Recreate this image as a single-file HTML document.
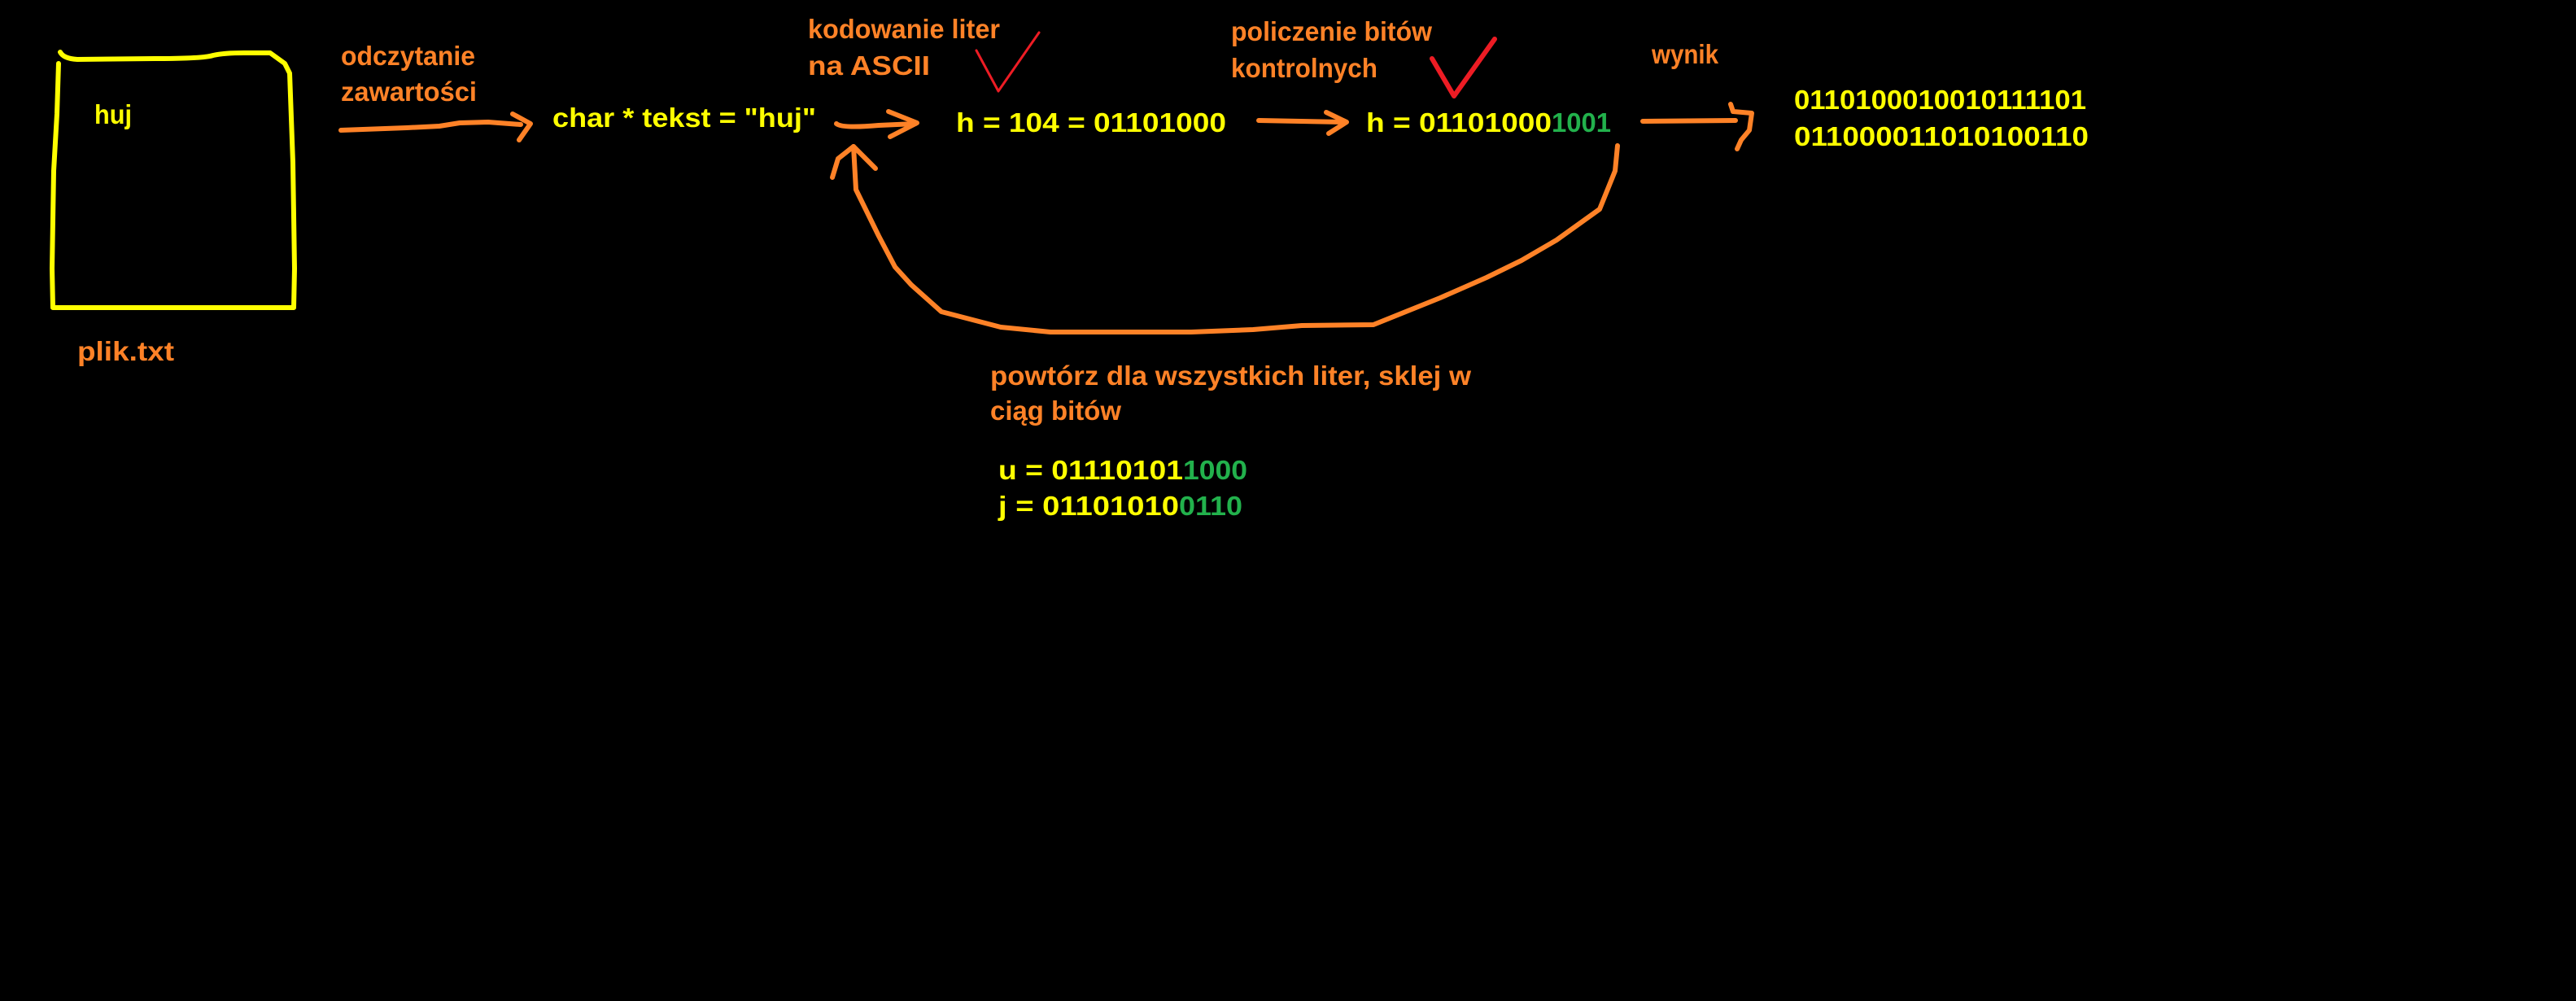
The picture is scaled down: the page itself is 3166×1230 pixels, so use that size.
<!DOCTYPE html>
<html><head><meta charset="utf-8"><style>
html,body{margin:0;padding:0;background:#000;width:3166px;height:1230px;overflow:hidden}
svg{display:block}
text{font-family:"Liberation Sans Narrow","Liberation Sans",sans-serif;font-weight:bold}
.y{fill:#ffff00}.o{fill:#ff8227}.g{fill:#22b14c}
</style></head><body>
<svg width="3166" height="1230" viewBox="0 0 3166 1230" xmlns="http://www.w3.org/2000/svg">
<rect width="3166" height="1230" fill="#000"/>
<g fill="none" stroke="#ffff00" stroke-width="6" stroke-linecap="round" stroke-linejoin="round">
<path d="M74,64 Q78,72 95,73 L190,72 Q250,72 262,68 Q275,65 300,65 L332,65 L350,78 L356,90 L360,200 L362,330 L361,378 L65,378 L64,330 L66,210 L70,140 L72,78"/>
</g>
<g fill="none" stroke="#ff8227" stroke-width="6" stroke-linecap="round" stroke-linejoin="round">
<path d="M419,160 L500,157 L540,155 L565,151 L600,150 L640,153"/>
<path d="M630,140 L652,152 L638,172"/>
<path d="M1028,152 Q1035,158 1080,154 L1125,152"/>
<path d="M1092,137 L1127,151 L1094,168"/>
<path d="M1547,148 L1650,150"/>
<path d="M1630,138 L1655,150 L1633,164"/>
<path d="M2019,149 L2133,148"/>
<path d="M2127,128 L2130,137 L2153,139 L2150,160 L2140,172 L2135,183"/>
<path d="M1988,179 L1985,210 L1966,257 L1913,295 L1870,320 L1827,341 L1770,366 L1688,399 L1600,400 L1540,405 L1464,408 L1291,408 L1230,402 L1157,383 L1120,350 L1100,328 L1080,290 L1052,233 L1049,180"/>
<path d="M1023,218 L1030,195 L1049,180 L1076,207"/>
</g>
<g fill="none" stroke="#ed1c24" stroke-linecap="round" stroke-linejoin="round">
<path d="M1200,62 L1227,112 L1277,40" stroke-width="3"/>
<path d="M1760,72 L1787,118 L1837,48" stroke-width="6"/>
</g>
<g font-size="33">
<text class="y" x="116" y="152" textLength="46" lengthAdjust="spacingAndGlyphs">huj</text>
<text class="o" x="95" y="443" textLength="119" lengthAdjust="spacingAndGlyphs">plik.txt</text>
<text class="o" x="419" y="80" textLength="165" lengthAdjust="spacingAndGlyphs">odczytanie</text>
<text class="o" x="419" y="124" textLength="167" lengthAdjust="spacingAndGlyphs">zawartości</text>
<text class="y" x="679" y="156" textLength="324" lengthAdjust="spacingAndGlyphs">char * tekst = "huj"</text>
<text class="o" x="993" y="47" textLength="236" lengthAdjust="spacingAndGlyphs">kodowanie liter</text>
<text class="o" x="993" y="92" textLength="150" lengthAdjust="spacingAndGlyphs">na ASCII</text>
<text class="y" x="1175" y="162" textLength="332" lengthAdjust="spacingAndGlyphs">h = 104 = 01101000</text>
<text class="o" x="1513" y="50" textLength="247" lengthAdjust="spacingAndGlyphs">policzenie bitów</text>
<text class="o" x="1513" y="95" textLength="180" lengthAdjust="spacingAndGlyphs">kontrolnych</text>
<text class="y" x="1679" y="162" textLength="228" lengthAdjust="spacingAndGlyphs">h = 01101000</text>
<text class="g" x="1907" y="162" textLength="73" lengthAdjust="spacingAndGlyphs">1001</text>
<text class="o" x="2030" y="78" textLength="82" lengthAdjust="spacingAndGlyphs">wynik</text>
<text class="y" x="2205" y="134" textLength="359" lengthAdjust="spacingAndGlyphs">0110100010010111101</text>
<text class="y" x="2205" y="179" textLength="362" lengthAdjust="spacingAndGlyphs">011000011010100110</text>
<text class="o" x="1217" y="473" textLength="591" lengthAdjust="spacingAndGlyphs">powtórz dla wszystkich liter, sklej w</text>
<text class="o" x="1217" y="516" textLength="161" lengthAdjust="spacingAndGlyphs">ciąg bitów</text>
<text class="y" x="1227" y="589" textLength="227" lengthAdjust="spacingAndGlyphs">u = 01110101</text>
<text class="g" x="1454" y="589" textLength="79" lengthAdjust="spacingAndGlyphs">1000</text>
<text class="y" x="1227" y="633" textLength="222" lengthAdjust="spacingAndGlyphs">j = 01101010</text>
<text class="g" x="1449" y="633" textLength="78" lengthAdjust="spacingAndGlyphs">0110</text>
</g>
</svg>
</body></html>
